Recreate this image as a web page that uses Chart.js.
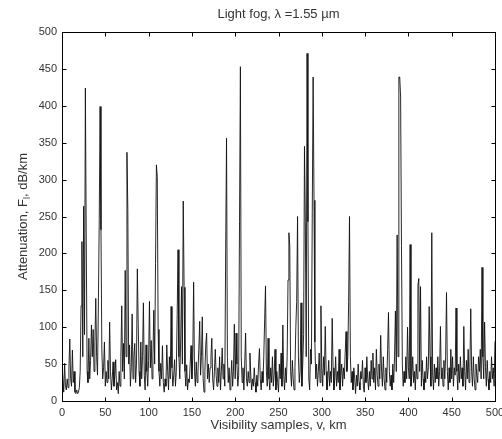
<!DOCTYPE html>
<html>
<head>
<meta charset="utf-8">
<script src="https://cdn.jsdelivr.net/npm/chart.js@4/dist/chart.umd.min.js"></script>
<style>
  html, body { margin: 0; padding: 0; background: #fff; }
  #wrap { width: 502px; height: 439px; }
</style>
</head>
<body>
<div id="wrap"><canvas id="fogChart" width="502" height="439"></canvas></div>
<script>
// Attenuation values, sample by sample (0..500)
const samples0to99 = [
  50, 50, 12, 51, 20, 15, 30, 18, 45, 84,
  30, 20, 69, 25, 40, 12, 10, 15, 10, 12,
  18, 40, 129, 216, 60, 264, 90, 424, 218, 40,
  25, 85, 30, 55, 103, 60, 97, 40, 80, 139,
  60, 35, 130, 246, 399, 232, 70, 30, 45, 80,
  20, 40, 25, 55, 30, 107, 40, 15, 30, 53,
  20, 35, 56, 15, 25, 10, 40, 20, 60, 129,
  40, 78, 30, 177, 60, 337, 261, 50, 76, 20,
  45, 118, 30, 60, 78, 25, 50, 179, 105, 40,
  20, 80, 30, 60, 133, 35, 15, 76, 40, 20
];
const samples100to199 = [
  55, 135, 45, 82, 30, 60, 123, 50, 186, 320,
  304, 97, 40, 20, 51, 30, 75, 25, 12, 30,
  20, 76, 40, 15, 60, 30, 128, 45, 20, 35,
  56, 20, 40, 117, 205, 60, 30, 80, 155, 50,
  271, 154, 40, 20, 49, 15, 30, 25, 50, 75,
  30, 60, 161, 40, 20, 53, 25, 40, 70, 108,
  35, 60, 114, 30, 12, 40, 76, 92, 30, 50,
  25, 45, 60, 85, 30, 15, 40, 70, 35, 20,
  45, 25, 60, 15, 40, 72, 30, 50, 20, 205,
  356, 60, 25, 45, 15, 30, 55, 20, 40, 104
];
const samples200to299 = [
  30, 92, 50, 20, 35, 243, 453, 60, 25, 45,
  15, 50, 92, 30, 20, 40, 25, 65, 35, 15,
  30, 20, 45, 25, 12, 35, 20, 50, 71, 30,
  15, 40, 25, 60, 110, 156, 40, 20, 85, 30,
  15, 45, 25, 60, 20, 35, 70, 15, 40, 25,
  12, 50, 30, 65, 20, 103, 35, 15, 45, 25,
  60, 164, 228, 211, 40, 20, 55, 30, 15, 45,
  100, 135, 250, 60, 25, 40, 133, 20, 50, 90,
  345, 243, 60, 471, 243, 30, 15, 70, 50, 257,
  439, 272, 80, 30, 50, 20, 40, 65, 25, 129
];
const samples300to399 = [
  45, 20, 60, 35, 101, 40, 15, 30, 55, 20,
  40, 25, 112, 45, 15, 30, 60, 20, 40, 25,
  70, 15, 35, 50, 20, 45, 30, 65, 94, 40,
  60, 135, 250, 60, 25, 40, 15, 45, 30, 10,
  35, 20, 50, 25, 15, 40, 30, 55, 20, 12,
  45, 25, 60, 30, 15, 40, 20, 55, 30, 65,
  25, 45, 15, 70, 35, 20, 50, 30, 89, 40,
  20, 60, 30, 15, 45, 25, 70, 120, 40, 20,
  35, 15, 50, 25, 60, 122, 40, 225, 60, 439,
  439, 412, 211, 50, 20, 40, 25, 60, 30, 100
];
const samples400to500 = [
  45, 30, 212, 20, 35, 60, 25, 40, 15, 50,
  30, 157, 166, 40, 155, 20, 55, 30, 15, 40,
  25, 60, 30, 45, 128, 60, 20, 228, 35, 15,
  50, 25, 45, 30, 60, 20, 40, 101, 30, 45,
  20, 55, 30, 60, 147, 40, 15, 45, 25, 70,
  30, 60, 20, 45, 35, 126, 40, 15, 50, 25,
  60, 30, 45, 20, 101, 40, 15, 55, 30, 70,
  25, 45, 125, 40, 20, 60, 30, 15, 50, 35,
  25, 60, 40, 70, 30, 181, 60, 30, 107, 45,
  20, 55, 30, 15, 40, 25, 60, 30, 45, 20,
  81
];

const attenuation = [...samples0to99, ...samples100to199, ...samples200to299, ...samples300to399, ...samples400to500];
const xTicks = [0, 50, 100, 150, 200, 250, 300, 350, 400, 450, 500];
const yTicks = [0, 50, 100, 150, 200, 250, 300, 350, 400, 450, 500];

const chartTitle = "Light fog, \u03bb =1.55 \u00b5m";
const xTitle = "Visibility samples, v, km";

const FONT = '"Liberation Sans", Arial, sans-serif';
const INK = "#333";

// box + inward ticks + titles, MATLAB style
const matlabAxes = {
  id: "matlabAxes",
  afterDraw(chart) {
    const ctx = chart.ctx;
    const a = chart.chartArea;
    const xs = chart.scales.x;
    const ys = chart.scales.y;
    const L = Math.round(a.left) + 0.5, R = Math.round(a.right) + 0.5;
    const T = Math.round(a.top) + 0.5, B = Math.round(a.bottom) + 0.5;

    ctx.save();
    ctx.strokeStyle = "#000";
    ctx.lineWidth = 1;
    ctx.strokeRect(L, T, R - L, B - T);

    ctx.beginPath();
    xTicks.forEach(v => {
      const px = Math.round(xs.getPixelForValue(v)) + 0.5;
      ctx.moveTo(px, B); ctx.lineTo(px, B - 4);
      ctx.moveTo(px, T); ctx.lineTo(px, T + 4);
    });
    yTicks.forEach(v => {
      const py = Math.round(ys.getPixelForValue(v)) + 0.5;
      ctx.moveTo(L, py); ctx.lineTo(L + 4, py);
      ctx.moveTo(R, py); ctx.lineTo(R - 4, py);
    });
    ctx.stroke();

    ctx.fillStyle = INK;
    ctx.font = "13px " + FONT;
    ctx.textAlign = "center";
    ctx.textBaseline = "middle";
    const cx = (a.left + a.right) / 2;
    ctx.fillText(chartTitle, cx, 14);
    ctx.fillText(xTitle, cx, 425);

    // y title with subscript l
    const p1 = "Attenuation, F", sub = "l", p2 = ", dB/km";
    ctx.translate(22, (a.top + a.bottom) / 2);
    ctx.rotate(-Math.PI / 2);
    ctx.textAlign = "left";
    ctx.textBaseline = "alphabetic";
    ctx.font = "13px " + FONT;
    const w1 = ctx.measureText(p1).width, w3 = ctx.measureText(p2).width;
    ctx.font = "9px " + FONT;
    const w2 = ctx.measureText(sub).width;
    let sx = -(w1 + w2 + w3) / 2;
    ctx.font = "13px " + FONT;
    ctx.fillText(p1, sx, 5);
    sx += w1;
    ctx.font = "9px " + FONT;
    ctx.fillText(sub, sx, 8);
    sx += w2;
    ctx.font = "13px " + FONT;
    ctx.fillText(p2, sx, 5);
    ctx.restore();
  }
};

new Chart(document.getElementById("fogChart"), {
  type: "line",
  data: {
    datasets: [{
      data: attenuation.map((v, i) => ({ x: i, y: v })),
      borderColor: "#111",
      borderWidth: 0.9,
      pointRadius: 0,
      tension: 0,
      fill: false
    }]
  },
  options: {
    responsive: false,
    animation: false,
    layout: { padding: { top: 32, right: 7, left: 0, bottom: 0 } },
    plugins: {
      legend: { display: false },
      tooltip: { enabled: false },
      title: { display: false }
    },
    scales: {
      x: {
        type: "linear",
        min: 0,
        max: 500,
        afterBuildTicks: s => { s.ticks = xTicks.map(v => ({ value: v })); },
        grid: { display: false, drawTicks: false },
        border: { display: false },
        ticks: { color: INK, font: { size: 11, family: FONT }, padding: 5, maxRotation: 0, autoSkip: false },
        afterFit: s => { s.height = 38; s.paddingLeft = 0; s.paddingRight = 0; }
      },
      y: {
        min: 0,
        max: 500,
        afterBuildTicks: s => { s.ticks = yTicks.map(v => ({ value: v })); },
        grid: { display: false, drawTicks: false },
        border: { display: false },
        ticks: { color: INK, font: { size: 11, family: FONT }, padding: 5, autoSkip: false },
        afterFit: s => { s.width = 62; s.paddingTop = 0; s.paddingBottom = 0; }
      }
    }
  },
  plugins: [matlabAxes]
});
</script>
</body>
</html>
